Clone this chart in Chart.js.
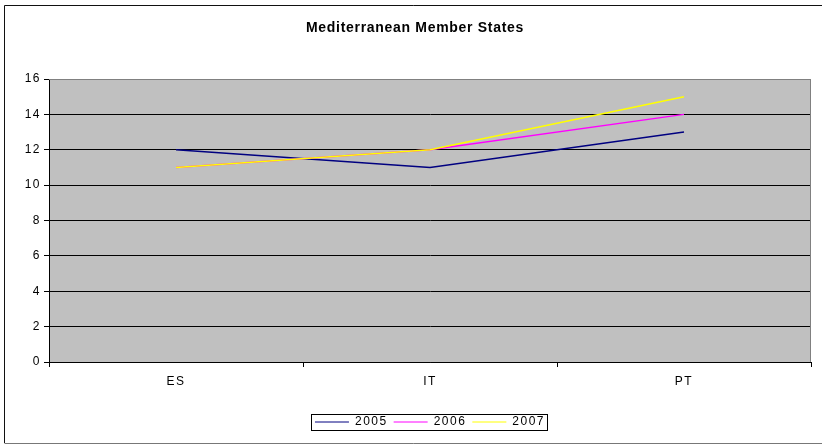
<!DOCTYPE html>
<html lang="en">
<head>
  <meta charset="UTF-8" />
  <title>Mediterranean Member States</title>
  <script src="https://cdn.jsdelivr.net/npm/chart.js"></script>
  <style>
    body { margin: 0; background: #fff; }
    #wrap { width: 822px; height: 444px; }
  </style>
</head>
<body>
  <div id="wrap"><canvas id="chart" width="822" height="444"></canvas></div>

  <script>
    const countries = ['ES', 'IT', 'PT'];
    const v2005 = [12, 11, 13];
    const v2006 = [11, 12, 14];
    const v2007 = [11, 12, 15];
    const yTicks = [0, 2, 4, 6, 8, 10, 12, 14, 16];

    Chart.defaults.font.family = '"Liberation Sans", Arial, sans-serif';
    Chart.defaults.color = '#000';

    // the old office charts space their letters a bit wider
    const spacing = {
      id: 'spacing',
      afterInit(chart) {
        const tb = chart.titleBlock;
        if (tb) {
          const draw = tb.draw.bind(tb);
          tb.draw = function (area) {
            const ctx = chart.ctx;
            const old = ctx.letterSpacing;
            ctx.letterSpacing = '0.7px';
            draw(area);
            ctx.letterSpacing = old;
          };
        }
      },
      beforeUpdate(chart) { chart.ctx.letterSpacing = '1.5px'; },
      beforeDraw(chart) { chart.ctx.letterSpacing = '1.5px'; }
    };

    // gray plot area, frame around whole chart, box around the legend
    const excelLook = {
      id: 'excelLook',
      beforeDraw(chart) {
        const { ctx, chartArea: a } = chart;
        ctx.save();
        ctx.fillStyle = '#fff';
        ctx.fillRect(0, 0, chart.width, chart.height);
        ctx.fillStyle = '#c0c0c0';
        ctx.fillRect(a.left, a.top, a.right - a.left, a.bottom - a.top);
        ctx.restore();
      },
      beforeDatasetsDraw(chart) {
        const { ctx, chartArea: a } = chart;
        ctx.save();
        ctx.strokeStyle = '#808080';
        ctx.lineWidth = 1;
        ctx.beginPath();
        ctx.moveTo(a.left, a.top + 0.5);
        ctx.lineTo(a.right - 0.5, a.top + 0.5);
        ctx.lineTo(a.right - 0.5, a.bottom);
        ctx.stroke();
        ctx.restore();
      },
      afterDraw(chart) {
        const { ctx } = chart;
        ctx.save();
        ctx.lineWidth = 1;
        ctx.strokeStyle = '#111';
        ctx.beginPath();
        ctx.moveTo(4.5, 443);
        ctx.lineTo(4.5, 5.5);
        ctx.lineTo(822, 5.5);
        ctx.stroke();
        ctx.strokeStyle = '#777';
        ctx.beginPath();
        ctx.moveTo(4.5, 443.5);
        ctx.lineTo(822, 443.5);
        ctx.stroke();

        const boxes = chart.legend.legendHitBoxes;
        if (boxes && boxes.length) {
          const l = Math.min(...boxes.map(b => b.left)) - 4;
          const r = Math.max(...boxes.map(b => b.left + b.width)) + 2;
          const t = Math.min(...boxes.map(b => b.top)) - 2;
          const bt = Math.max(...boxes.map(b => b.top + b.height)) + 2;
          ctx.strokeStyle = '#000';
          ctx.strokeRect(Math.round(l) + 0.5, Math.round(t) + 0.5, Math.round(r - l), Math.round(bt - t));
        }
        ctx.restore();
      }
    };

    new Chart(document.getElementById('chart'), {
      type: 'line',
      data: {
        labels: countries,
        datasets: [
          { label: '2005', data: v2005, borderColor: '#000080', backgroundColor: '#000080', order: 3 },
          { label: '2006', data: v2006, borderColor: '#ff00ff', backgroundColor: '#ff00ff', order: 2 },
          { label: '2007', data: v2007, borderColor: '#ffff00', backgroundColor: '#ffff00', order: 1 }
        ]
      },
      options: {
        responsive: false,
        animation: false,
        layout: { padding: { left: 19, right: 11, top: 4, bottom: 6 } },
        elements: {
          line: { borderWidth: 1.5, tension: 0 },
          point: { radius: 0, hoverRadius: 0 }
        },
        scales: {
          x: {
            offset: true,
            grid: { offset: true, drawOnChartArea: false, tickLength: 5, tickColor: '#000' },
            border: { color: '#000' },
            ticks: { font: { size: 12 }, padding: 7, color: '#000' },
            afterFit(s) { s.height = 48; }
          },
          y: {
            min: 0,
            max: 16,
            afterBuildTicks(s) { s.ticks = yTicks.map(v => ({ value: v })); },
            grid: {
              color: c => (c.tick && c.tick.value === 16 ? '#808080' : '#000'),
              tickColor: '#000',
              tickLength: 5
            },
            border: { color: '#000' },
            ticks: { font: { size: 12 }, padding: 3, color: '#000' },
            afterFit(s) { s.width = 30; }
          }
        },
        plugins: {
          title: {
            display: true,
            text: 'Mediterranean Member States',
            color: '#000',
            font: { size: 14, weight: 'bold' },
            padding: { top: 15.5, bottom: 42.7 }
          },
          legend: {
            position: 'bottom',
            fullSize: false,
            labels: {
              usePointStyle: true,
              pointStyle: 'line',
              pointStyleWidth: 34,
              boxHeight: 12,
              padding: 6,
              color: '#000',
              font: { size: 12 },
              sort: (a, b) => a.datasetIndex - b.datasetIndex
            }
          },
          tooltip: { enabled: false }
        }
      },
      plugins: [spacing, excelLook]
    });
  </script>
</body>
</html>
